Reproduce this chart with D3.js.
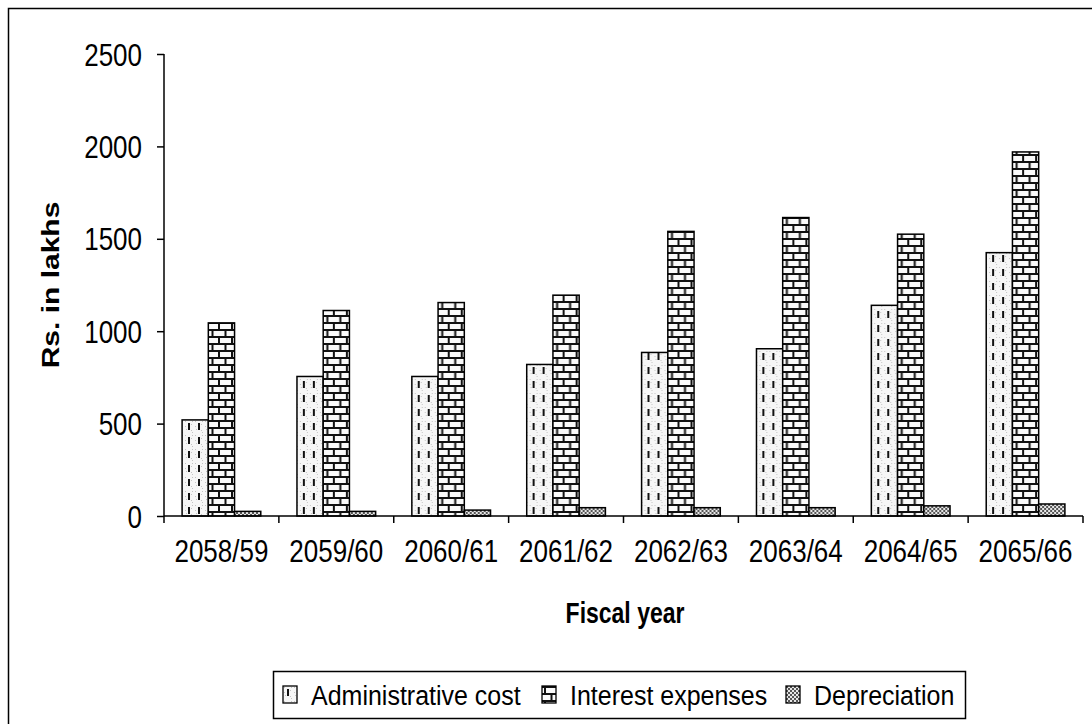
<!DOCTYPE html>
<html>
<head>
<meta charset="utf-8">
<script src="https://cdn.jsdelivr.net/npm/d3@7"></script>
<style>
  html, body { margin: 0; padding: 0; background: #fff; }
  svg { display: block; font-family: "Liberation Sans", Arial, sans-serif; }
</style>
</head>
<body>
<svg id="chart" width="1092" height="724"></svg>
<script>
// Fiscal years on the x axis
const years = ["2058/59", "2059/60", "2060/61", "2061/62", "2062/63", "2063/64", "2064/65", "2065/66"];
// Series values (Rs. in lakhs)
const adminCost = [520, 755, 755, 820, 885, 905, 1140, 1425];
const interestExp = [1045, 1112, 1155, 1195, 1540, 1615, 1525, 1970];
const depreciation = [25, 25, 32, 45, 45, 45, 55, 65];
const seriesNames = ["Administrative cost", "Interest expenses", "Depreciation"];
const yTicks = [0, 500, 1000, 1500, 2000, 2500];

const svg = d3.select("#chart");
const defs = svg.append("defs");

// Administrative cost: light speckle with vertical dashes
const pAdmin = defs.append("pattern").attr("id", "pAdmin")
  .attr("patternUnits", "userSpaceOnUse").attr("width", 10).attr("height", 14);
pAdmin.append("rect").attr("width", 10).attr("height", 14).attr("fill", "#f6f6f6");
[[1,1],[7,4],[2,9],[8,12],[1,6],[7,10],[8,1]].forEach(([px, py]) =>
  pAdmin.append("rect").attr("x", px).attr("y", py).attr("width", 1).attr("height", 1).attr("fill", "#c4c4c4"));
pAdmin.append("rect").attr("x", 4).attr("y", 3).attr("width", 2).attr("height", 7).attr("fill", "#111");

// Interest expenses: brick pattern
const pInt = defs.append("pattern").attr("id", "pInt")
  .attr("patternUnits", "userSpaceOnUse").attr("width", 13).attr("height", 14);
pInt.append("rect").attr("width", 13).attr("height", 14).attr("fill", "#fafafa");
pInt.append("rect").attr("x", 0).attr("y", 0).attr("width", 13).attr("height", 2).attr("fill", "#111");
pInt.append("rect").attr("x", 0).attr("y", 7).attr("width", 13).attr("height", 2).attr("fill", "#111");
pInt.append("rect").attr("x", 2).attr("y", 0).attr("width", 2).attr("height", 7).attr("fill", "#111");
pInt.append("rect").attr("x", 8.5).attr("y", 7).attr("width", 2).attr("height", 7).attr("fill", "#111");

// Depreciation: small checker weave
const pDep = defs.append("pattern").attr("id", "pDep")
  .attr("patternUnits", "userSpaceOnUse").attr("width", 4).attr("height", 4);
pDep.append("rect").attr("width", 4).attr("height", 4).attr("fill", "#e6e6e6");
pDep.append("rect").attr("x", 0).attr("y", 0).attr("width", 2).attr("height", 2).attr("fill", "#555");
pDep.append("rect").attr("x", 2).attr("y", 2).attr("width", 2).attr("height", 2).attr("fill", "#555");

const fills = ["url(#pAdmin)", "url(#pInt)", "url(#pDep)"];
const series = [adminCost, interestExp, depreciation];

// Outer chart frame
svg.append("rect").attr("x", 8.5).attr("y", 8.5).attr("width", 1100).attr("height", 730)
  .attr("fill", "none").attr("stroke", "#000").attr("stroke-width", 1.5);

const plotLeft = 164, plotRight = 1083, plotTop = 54, plotBottom = 516;

const x0 = d3.scaleBand().domain(years).range([plotLeft, plotRight]).paddingInner(0).paddingOuter(0);
const x1 = d3.scaleBand().domain(d3.range(3)).range([0, x0.bandwidth()]).paddingInner(0).paddingOuter(0.69);
const y = d3.scaleLinear().domain([0, 2500]).range([plotBottom, plotTop]);

// Bars
const groups = svg.append("g").selectAll("g").data(years).join("g")
  .attr("transform", d => `translate(${x0(d)},0)`);
groups.selectAll("rect")
  .data((d, i) => series.map((s, k) => ({ k, v: s[i] })))
  .join("rect")
  .attr("x", d => x1(d.k))
  .attr("y", d => y(d.v))
  .attr("width", x1.bandwidth())
  .attr("height", d => y(0) - y(d.v))
  .attr("fill", d => fills[d.k])
  .attr("stroke", "#000")
  .attr("stroke-width", 1.5);

// Text helper: tall, narrow lettering
function tallText(sel, x, yPos, size, sy) {
  return sel.attr("transform", `translate(${x},${yPos}) scale(1,${sy})`)
    .attr("font-size", size).attr("fill", "#000");
}

// Y axis
const yAxis = svg.append("g").attr("transform", `translate(${plotLeft},0)`)
  .call(d3.axisLeft(y).tickValues(yTicks).tickSize(7).tickPadding(8).tickFormat(d3.format("d")));
yAxis.select(".domain").attr("stroke", "#000").attr("stroke-width", 1.5).attr("d", `M0,${plotTop}V${plotBottom}`);
yAxis.selectAll(".tick line").attr("stroke", "#000").attr("stroke-width", 1.5);
yAxis.selectAll(".tick text").remove();
yAxis.selectAll(".tick").append("text")
  .attr("text-anchor", "end")
  .each(function () { tallText(d3.select(this), -22, 11, 26, 1.18); })
  .text(d => d);

// X axis: line with ticks at category boundaries
const xAxis = svg.append("g");
xAxis.append("line").attr("x1", plotLeft).attr("x2", plotRight).attr("y1", plotBottom).attr("y2", plotBottom)
  .attr("stroke", "#000").attr("stroke-width", 1.5);
const bounds = years.map(d => x0(d)).concat([x0(years[years.length - 1]) + x0.bandwidth()]);
xAxis.selectAll("line.tk").data(bounds).join("line").attr("class", "tk")
  .attr("x1", d => d).attr("x2", d => d).attr("y1", plotBottom).attr("y2", plotBottom + 7)
  .attr("stroke", "#000").attr("stroke-width", 1.5);
xAxis.selectAll("text").data(years).join("text")
  .attr("text-anchor", "middle")
  .each(function (d) { tallText(d3.select(this), x0(d) + x0.bandwidth() / 2, 562, 26, 1.18); })
  .text(d => d);

// Axis titles
tallText(svg.append("text"), 625, 623, 23, 1.25)
  .attr("text-anchor", "middle").attr("font-weight", "bold").text("Fiscal year");
svg.append("text").attr("transform", "translate(59,285) rotate(-90) scale(1.25,1)")
  .attr("text-anchor", "middle").attr("font-size", 24).attr("font-weight", "bold").text("Rs. in lakhs");

// Legend
const legend = svg.append("g");
legend.append("rect").attr("x", 273.5).attr("y", 671.5).attr("width", 692).attr("height", 47)
  .attr("fill", "#fff").attr("stroke", "#000").attr("stroke-width", 1.5);
const legendX = [283, 542, 786];
const legendItems = legend.selectAll("g").data(seriesNames).join("g")
  .attr("transform", (d, i) => `translate(${legendX[i]},686)`);
legendItems.append("rect").attr("width", 14).attr("height", 17)
  .attr("fill", (d, i) => fills[i]).attr("stroke", "#000").attr("stroke-width", 1.3);
legendItems.append("text")
  .each(function () { tallText(d3.select(this), 28, 19, 25, 1.12); })
  .text(d => d);
</script>
</body>
</html>
